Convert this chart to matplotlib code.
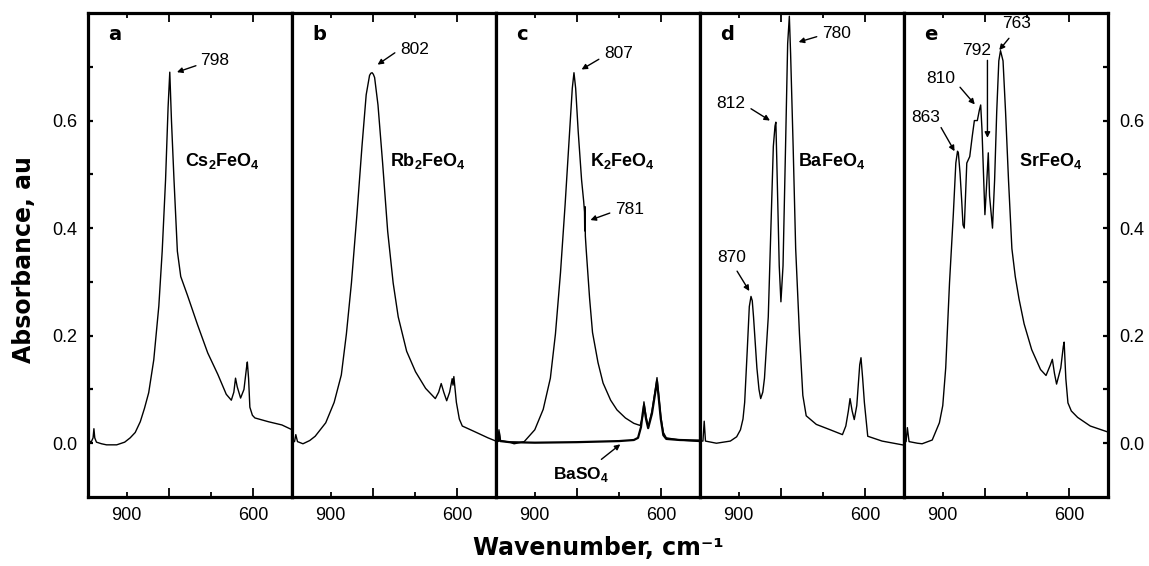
import numpy as np
import matplotlib
matplotlib.use('Agg')
import matplotlib.pyplot as plt

plt.rcParams['font.family'] = ['Liberation Sans', 'DejaVu Sans']
plt.rcParams['mathtext.fontset'] = 'custom'
plt.rcParams['mathtext.rm'] = 'Liberation Sans'
plt.rcParams['mathtext.bf'] = 'Liberation Sans:bold'

# IR spectra (wavenumber in cm-1, absorbance)
wn_cs = [992, 984, 980, 978, 976, 972, 960, 948, 924, 905, 892, 880, 868, 858, 848, 836,
         824, 816, 808, 802, 798, 794, 788, 780, 772, 756, 732, 708, 684, 664, 652, 646,
         642, 638, 630, 622, 616, 614, 611, 608, 602, 596, 564, 532, 505]
ab_cs = [0.004, 0.003, 0.01, 0.027, 0.01, 0.002, -0.001, -0.003, -0.003, 0.002, 0.01, 0.02,
         0.04, 0.065, 0.094, 0.155, 0.255, 0.357, 0.49, 0.625, 0.69, 0.6, 0.49, 0.357, 0.31,
         0.275, 0.22, 0.168, 0.128, 0.091, 0.08, 0.095, 0.121, 0.105, 0.084, 0.1, 0.14, 0.151,
         0.12, 0.067, 0.052, 0.047, 0.04, 0.034, 0.024]

wn_rb = [998, 986, 983, 979, 966, 950, 937, 912, 892, 875, 863, 851, 838, 826, 816, 808,
         805, 802, 799, 796, 788, 777, 765, 752, 740, 720, 699, 675, 652, 644, 638, 632,
         625, 618, 612, 610, 608, 605, 602, 595, 588, 560, 527, 505]
ab_rb = [0.003, 0.003, 0.016, 0.003, -0.001, 0.005, 0.013, 0.038, 0.076, 0.127, 0.203,
         0.298, 0.425, 0.552, 0.648, 0.684, 0.688, 0.689, 0.686, 0.68, 0.629, 0.521, 0.394,
         0.298, 0.235, 0.171, 0.133, 0.102, 0.083, 0.095, 0.111, 0.095, 0.079, 0.095, 0.12,
         0.108, 0.124, 0.1, 0.076, 0.045, 0.032, 0.022, 0.01, 0.003]

wn_k = [998, 987, 985, 982, 960, 949, 925, 900, 880, 863, 851, 839, 828, 818, 811, 807,
        803, 797, 789, 784, 782, 781.5, 781, 780, 778, 770, 763, 750, 738, 720, 705, 685,
        665, 650, 644, 641, 636, 631, 622, 614, 610, 606, 601, 595, 588, 556, 505]
ab_k = [0.005, 0.005, 0.025, 0.005, 0.002, -0.001, 0.003, 0.025, 0.063, 0.121, 0.203,
        0.317, 0.444, 0.571, 0.66, 0.689, 0.66, 0.58, 0.49, 0.45, 0.43, 0.395, 0.44, 0.385,
        0.36, 0.27, 0.206, 0.15, 0.112, 0.08, 0.062, 0.047, 0.037, 0.033, 0.05, 0.077, 0.05,
        0.03, 0.06, 0.1, 0.122, 0.09, 0.05, 0.02, 0.01, 0.006, 0.003]

wn_baso4 = [998, 987, 985, 982, 960, 900, 800, 700, 665, 655, 648, 644, 641, 636, 631,
            622, 614, 610, 606, 601, 595, 588, 556, 505]
ab_baso4 = [0.004, 0.004, 0.02, 0.004, 0.002, 0.001, 0.002, 0.004, 0.006, 0.01, 0.03, 0.055,
            0.07, 0.045, 0.028, 0.055, 0.095, 0.115, 0.085, 0.045, 0.015, 0.008, 0.006, 0.005]

wn_ba = [998, 985, 982, 979, 953, 920, 905, 896, 890, 886, 880, 875, 871, 868, 865, 857,
         852, 848, 843, 839, 830, 824, 818, 814, 812, 810, 804, 800, 795, 789, 784, 780,
         777, 771, 765, 756, 748, 740, 716, 683, 654, 646, 640, 636, 631, 626, 620, 613,
         610, 606, 602, 594, 560, 505]
ab_ba = [0.004, 0.004, 0.041, 0.004, 0.0, 0.004, 0.012, 0.025, 0.045, 0.076, 0.171, 0.254,
         0.273, 0.265, 0.235, 0.14, 0.1, 0.083, 0.095, 0.121, 0.235, 0.394, 0.552, 0.59,
         0.597, 0.533, 0.33, 0.263, 0.33, 0.552, 0.743, 0.794, 0.724, 0.552, 0.362, 0.203,
         0.089, 0.051, 0.035, 0.025, 0.016, 0.032, 0.06, 0.083, 0.06, 0.044, 0.07, 0.146,
         0.159, 0.12, 0.076, 0.013, 0.004, -0.004]

wn_sr = [998, 987, 984, 980, 960, 949, 925, 908, 900, 893, 884, 875, 869, 865, 863, 859,
         855, 852, 849, 846, 843, 836, 830, 825, 818, 813, 810, 807, 800, 796, 792, 789,
         782, 777, 772, 767, 763, 757, 751, 744, 736, 728, 719, 707, 689, 668, 655, 645,
         640, 635, 630, 620, 614, 612, 608, 603, 595, 580, 550, 520, 505]
ab_sr = [0.004, 0.003, 0.029, 0.003, 0.0, -0.001, 0.006, 0.038, 0.07, 0.14, 0.298, 0.425,
         0.521, 0.543, 0.54, 0.502, 0.45, 0.406, 0.40, 0.46, 0.521, 0.533, 0.571, 0.6, 0.6,
         0.62, 0.629, 0.584, 0.425, 0.48, 0.54, 0.46, 0.40, 0.489, 0.616, 0.711, 0.73, 0.711,
         0.616, 0.489, 0.362, 0.31, 0.268, 0.222, 0.174, 0.137, 0.126, 0.145, 0.156, 0.13,
         0.11, 0.14, 0.18, 0.188, 0.12, 0.075, 0.06, 0.048, 0.032, 0.024, 0.02]

panel_letters = ['a', 'b', 'c', 'd', 'e']
compounds = [r'Cs$_\mathbf{2}$FeO$_\mathbf{4}$', r'Rb$_\mathbf{2}$FeO$_\mathbf{4}$',
             r'K$_\mathbf{2}$FeO$_\mathbf{4}$', r'BaFeO$_\mathbf{4}$', r'SrFeO$_\mathbf{4}$']
spectra = [(wn_cs, ab_cs), (wn_rb, ab_rb), (wn_k, ab_k), (wn_ba, ab_ba), (wn_sr, ab_sr)]

# peak labels per panel: value, arrow head, arrow tail, text centre
peaks = [
    [(798, (781, 0.690), (736, 0.702), (692, 0.712))],
    [(802, (789, 0.704), (748, 0.726), (700, 0.733))],
    [(807, (789, 0.695), (748, 0.714), (700, 0.724)),
     (781, (768, 0.415), (722, 0.428), (676, 0.435))],
    [(780, (758, 0.746), (715, 0.756), (668, 0.762)),
     (812, (826, 0.600), (871, 0.622), (920, 0.632)),
     (870, (875, 0.283), (904, 0.320), (916, 0.346))],
    [(863, (872, 0.543), (904, 0.587), (941, 0.606)),
     (810, (824, 0.630), (859, 0.662), (905, 0.678)),
     (792, (794, 0.568), (794, 0.712), (819, 0.731)),
     (763, (766, 0.731), (743, 0.753), (726, 0.780))],
]
compound_x = [762, 760, 768, 760, 719]

arrow_style = dict(arrowstyle='-|>', color='black', lw=1.0, mutation_scale=8,
                   shrinkA=0, shrinkB=0)

fig, axes = plt.subplots(1, 5, figsize=(11.49, 5.66), dpi=100, sharey=True)
fig.subplots_adjust(left=0.0766, right=0.9643, bottom=0.1219, top=0.977, wspace=0)

for i, ax in enumerate(axes):
    wn, ab = spectra[i]
    ax.plot(wn, ab, color='black', lw=1.0)
    if i == 2:
        ax.plot(wn_baso4, ab_baso4, color='black', lw=1.6)
        ax.annotate('', xy=(697, -0.002), xytext=(742, -0.030), arrowprops=arrow_style)
        ax.text(790, -0.058, r'BaSO$_\mathbf{4}$', fontsize=12.5, fontweight='bold',
                ha='center', va='center')
    ax.set_xlim(992, 508)
    ax.set_ylim(-0.1, 0.8)

    for sp in ax.spines.values():
        sp.set_linewidth(2.3)

    # long ticks at 800/600, short ticks at 900/700; labels only at 900 and 600
    ax.set_xticks([900, 700], labels=['900', ''])
    ax.set_xticks([800, 600], labels=['', '600'], minor=True)
    ax.tick_params(axis='x', which='major', direction='in', length=3.5, width=1.3,
                   top=True, labelsize=13, pad=7)
    ax.tick_params(axis='x', which='minor', direction='in', length=6.5, width=1.3,
                   top=True, labelsize=13, pad=7)

    ax.set_yticks([0.0, 0.2, 0.4, 0.6])
    ax.set_yticks([0.1, 0.3, 0.5, 0.7], minor=True)
    ax.yaxis.set_major_formatter(matplotlib.ticker.FormatStrFormatter('%.1f'))
    ax.tick_params(axis='y', which='both', direction='in', length=3.5, width=1.6,
                   left=(i == 0), right=(i == 4), labelleft=(i == 0),
                   labelright=(i == 4), labelsize=13, pad=8)

    ax.text(0.1, 0.955, panel_letters[i], transform=ax.transAxes, fontsize=14,
            fontweight='bold', family='DejaVu Sans', va='center', ha='left')
    ax.text(compound_x[i], 0.525, compounds[i], fontsize=13, fontweight='bold',
            ha='left', va='center')

    for value, head, tail, txt in peaks[i]:
        ax.annotate('', xy=head, xytext=tail, arrowprops=arrow_style)
        ax.text(txt[0], txt[1], str(value), fontsize=12.5, ha='center', va='center')

fig.text(0.021, 0.541, 'Absorbance, au', rotation=90, fontsize=17, fontweight='bold',
         family='DejaVu Sans', ha='center', va='center')
fig.text(0.5205, 0.032, 'Wavenumber, cm\u207b\u00b9', fontsize=17, fontweight='bold',
         family='DejaVu Sans', ha='center', va='center')

fig.savefig('out.png', dpi=100)
